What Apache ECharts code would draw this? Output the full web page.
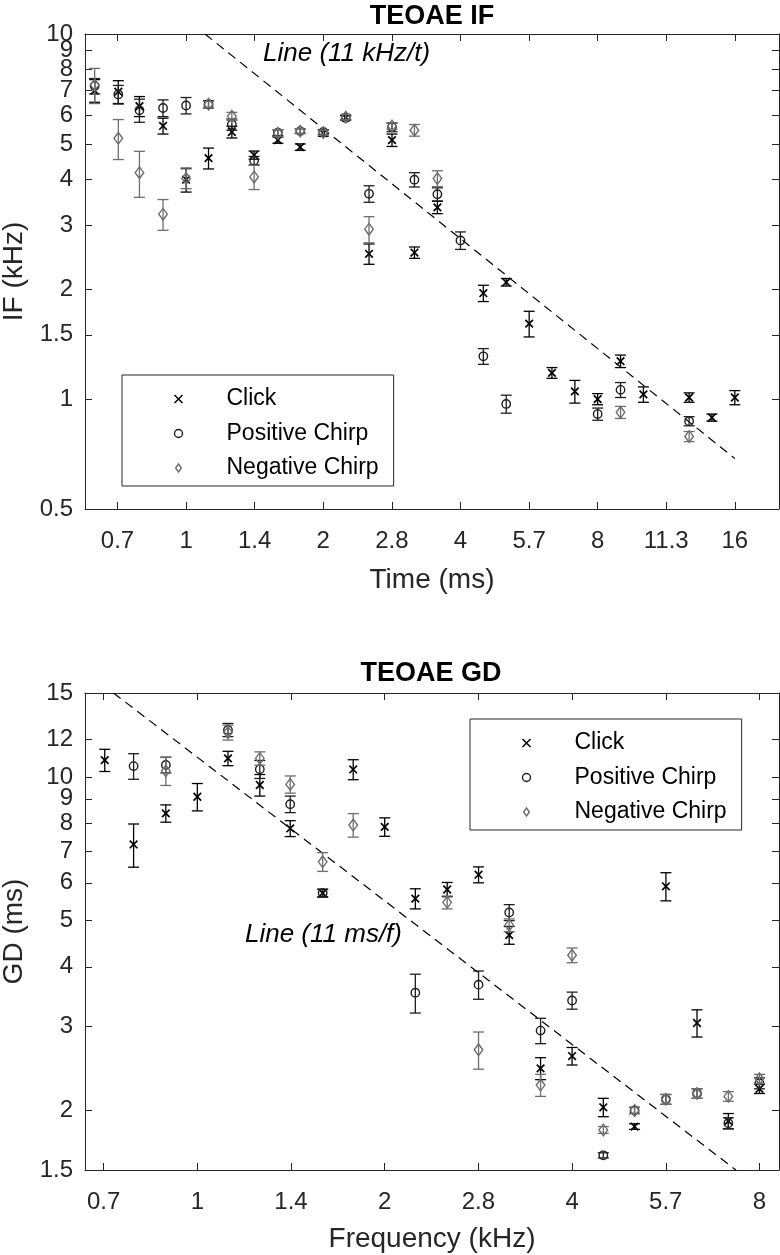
<!DOCTYPE html>
<html>
<head>
<meta charset="utf-8">
<script src="https://cdn.jsdelivr.net/npm/echarts@6.0.0/dist/echarts.min.js"></script>
<style>
  html, body { margin: 0; padding: 0; background: #fff; }
  #chart { width: 780px; height: 1255px; }
</style>
</head>
<body>
<div id="chart"></div>
<script>
// ---------------- DATA ----------------
// Panel 1: TEOAE IF (time in ms, IF in kHz, error = half-width in kHz)
const ifTimes = [0.63, 0.71, 0.79, 0.89, 1.0, 1.12, 1.26, 1.41, 1.59, 1.78, 2.0, 2.24, 2.52, 2.83, 3.17,
                 3.56, 4.0, 4.49, 5.04, 5.66, 6.35, 7.13, 8.0, 8.98, 10.08, 11.31, 12.7, 14.25, 16.0];
const ifClick    = [7.0, 6.95, 6.34, 5.6, 3.99, 4.57, 5.39, 4.66, 5.12, 4.9, 5.35, 5.9, 2.5, 5.12, 2.52,
                    3.35, null, 1.95, 2.09, 1.61, 1.18, 1.05, 1.0, 1.27, 1.03, null, 1.01, 0.89, 1.01];
const ifClickErr = [0.5, 0.5, 0.4, 0.28, 0.3, 0.3, 0.2, 0.12, 0.1, 0.1, 0.1, 0.08, 0.16, 0.2, 0.09,
                    0.13, null, 0.1, 0.05, 0.13, 0.04, 0.075, 0.035, 0.05, 0.05, null, 0.03, 0.02, 0.045];
const ifPos      = [7.2, 6.83, 6.18, 6.27, 6.37, 6.42, 5.65, 4.5, 5.37, 5.42, 5.39, 5.89, 3.65, 5.55, 3.99,
                    3.64, 2.72, 1.31, 0.97, null, null, null, 0.91, 1.06, null, null, 0.87, null, null];
const ifPosErr   = [0.35, 0.4, 0.45, 0.33, 0.33, 0.15, 0.2, 0.12, 0.1, 0.08, 0.08, 0.08, 0.19, 0.15, 0.18,
                    0.15, 0.15, 0.065, 0.055, null, null, null, 0.035, 0.05, null, null, 0.025, null, null];
const ifNeg      = [7.25, 5.18, 4.17, 3.21, 4.02, 6.42, 5.95, 4.06, 5.35, 5.42, 5.37, 5.92, 2.92, 5.6, 5.45,
                    4.02, null, null, null, null, null, null, null, 0.92, null, null, 0.79, null, null];
const ifNegErr   = [0.8, 0.65, 0.6, 0.31, 0.25, 0.12, 0.15, 0.31, 0.12, 0.08, 0.08, 0.1, 0.24, 0.12, 0.2,
                    0.2, null, null, null, null, null, null, null, 0.035, null, null, 0.025, null, null];
const ifLineT = [1.1, 16];            // reference line IF = 11 / t
const ifLineK = 11;

// Panel 2: TEOAE GD (frequency in kHz, GD in ms)
const gdFreqs = [0.71, 0.79, 0.89, 1.0, 1.12, 1.26, 1.41, 1.59, 1.78, 2.0, 2.24, 2.52, 2.83, 3.17, 3.56,
                 4.0, 4.49, 5.04, 5.66, 6.35, 7.13, 8.0];
const gdClick    = [10.85, 7.22, 8.39, 9.09, 10.94, 9.62, 7.8, 5.71, 10.37, 7.86, 5.56, 5.81, 6.24, 4.66, 2.45,
                    2.6, 2.03, 1.85, 5.9, 3.05, 1.9, 2.22];
const gdClickErr = [0.58, 0.75, 0.35, 0.6, 0.38, 0.5, 0.3, 0.11, 0.5, 0.35, 0.27, 0.2, 0.24, 0.2, 0.13,
                    0.11, 0.09, 0.025, 0.4, 0.2, 0.07, 0.05];
const gdPos      = [null, 10.54, 10.6, null, 12.55, 10.38, 8.77, 5.71, null, null, 3.53, null, 3.67, 5.2, 2.94,
                    3.4, 1.61, 2.0, 2.11, 2.17, 1.88, 2.28];
const gdPosErr   = [null, 0.65, 0.4, null, 0.4, 0.45, 0.35, 0.1, null, null, 0.33, null, 0.25, 0.2, 0.18,
                    0.14, 0.02, 0.03, 0.05, 0.05, 0.05, 0.06];
const gdNeg      = [null, null, 10.3, null, 12.4, 10.94, 9.65, 6.64, 7.93, null, null, 5.46, 2.68, 4.89, 2.26,
                    4.23, 1.82, 2.0, 2.11, 2.17, 2.14, 2.33];
const gdNegErr   = [null, null, 0.7, null, 0.45, 0.35, 0.4, 0.3, 0.45, null, null, 0.17, 0.24, 0.15, 0.12,
                    0.15, 0.03, 0.03, 0.05, 0.05, 0.05, 0.05];
const gdLineF = [0.7333, 7.333];      // reference line GD = 11 / f
const gdLineK = 11;

// Tick values / labels
const ifXTicks  = [0.7071, 1, 1.4142, 2, 2.8284, 4, 5.6569, 8, 11.3137, 16];
const ifXLabels = ['0.7', '1', '1.4', '2', '2.8', '4', '5.7', '8', '11.3', '16'];
const ifYTicks  = [0.5, 1, 1.5, 2, 3, 4, 5, 6, 7, 8, 9, 10];
const ifYLabels = ['0.5', '1', '1.5', '2', '3', '4', '5', '6', '7', '8', '9', '10'];
const gdXTicks  = [0.7071, 1, 1.4142, 2, 2.8284, 4, 5.6569, 8];
const gdXLabels = ['0.7', '1', '1.4', '2', '2.8', '4', '5.7', '8'];
const gdYTicks  = [1.5, 2, 3, 4, 5, 6, 7, 8, 9, 10, 12, 15];
const gdYLabels = ['1.5', '2', '3', '4', '5', '6', '7', '8', '9', '10', '12', '15'];

const ifXRange = [0.6, 20], ifYRange = [0.5, 10];
const gdXRange = [0.66, 8.6], gdYRange = [1.5, 15];

const seriesNames = ['Click', 'Positive Chirp', 'Negative Chirp'];

// ---------------- BUILD ----------------
const FONT = "'Liberation Sans', Arial, Helvetica, sans-serif";
const AX = '#262626';
const COLORS = ['#000000', '#1e1e1e', '#6e6e6e'];
const L2 = Math.log2, L10 = Math.log10;

function rows(xs, ys, es) {
  const out = [];
  xs.forEach((x, i) => {
    if (ys[i] == null) return;
    out.push([L2(x), L10(ys[i]), L10(ys[i] - es[i]), L10(ys[i] + es[i])]);
  });
  return out;
}

function makeRender(marker, color) {
  return function (params, api) {
    const xv = api.value(0);
    const p = api.coord([xv, api.value(1)]);
    const lo = api.coord([xv, api.value(2)]);
    const hi = api.coord([xv, api.value(3)]);
    const cw = 5.5;
    const st = { stroke: color, lineWidth: 1.3, fill: null };
    const ch = [
      { type: 'line', shape: { x1: p[0], y1: lo[1], x2: p[0], y2: hi[1] }, style: st },
      { type: 'line', shape: { x1: p[0] - cw, y1: lo[1], x2: p[0] + cw, y2: lo[1] }, style: st },
      { type: 'line', shape: { x1: p[0] - cw, y1: hi[1], x2: p[0] + cw, y2: hi[1] }, style: st }
    ];
    const ms = { stroke: color, lineWidth: 1.4, fill: null };
    if (marker === 'x') {
      const d = 3.8;
      ch.push({ type: 'line', shape: { x1: p[0] - d, y1: p[1] - d, x2: p[0] + d, y2: p[1] + d }, style: { stroke: color, lineWidth: 1.7 } });
      ch.push({ type: 'line', shape: { x1: p[0] - d, y1: p[1] + d, x2: p[0] + d, y2: p[1] - d }, style: { stroke: color, lineWidth: 1.7 } });
    } else if (marker === 'o') {
      ch.push({ type: 'circle', shape: { cx: p[0], cy: p[1], r: 4.2 }, style: ms });
    } else {
      ch.push({ type: 'polygon', shape: { points: [[p[0], p[1] - 5.8], [p[0] + 4.3, p[1]], [p[0], p[1] + 5.8], [p[0] - 4.3, p[1]]] }, style: ms });
    }
    return { type: 'group', children: ch };
  };
}

function labelFor(ticks, labels, logFn) {
  return function (v) {
    let best = 0, bd = Infinity;
    ticks.forEach((t, i) => { const d = Math.abs(logFn(t) - v); if (d < bd) { bd = d; best = i; } });
    return labels[best];
  };
}

function makeAxis(kind, gridIndex, ticks, labels, range, logFn, show, extra, labelTicks) {
  const vals = ticks.map(logFn);
  const lvals = (labelTicks || ticks).map(logFn);
  return Object.assign({
    type: 'value',
    gridIndex: gridIndex,
    min: logFn(range[0]),
    max: logFn(range[1]),
    axisLine: { show: true, onZero: false, lineStyle: { color: AX, width: 1 } },
    axisTick: { show: true, inside: true, length: 7, customValues: vals, lineStyle: { color: AX, width: 1 } },
    axisLabel: {
      show: show, customValues: lvals, formatter: labelFor(ticks, labels, logFn),
      color: AX, fontFamily: FONT, fontSize: 24, margin: kind === 'x' ? 20 : 12,
      showMinLabel: true, showMaxLabel: true, hideOverlap: false
    },
    splitLine: { show: false }
  }, extra || {});
}

// An extra label-only axis so crowded labels (like MATLAB) are all drawn
function labelOnlyAxis(gridIndex, ticks, labels, range, logFn, which) {
  const vals = which.map(logFn);
  return {
    type: 'value', gridIndex: gridIndex, position: 'left',
    min: logFn(range[0]), max: logFn(range[1]),
    axisLine: { show: false }, axisTick: { show: false }, splitLine: { show: false },
    axisLabel: { show: true, customValues: vals, formatter: labelFor(ticks, labels, logFn),
      color: AX, fontFamily: FONT, fontSize: 24, margin: 12, showMinLabel: true, showMaxLabel: true }
  };
}

const nameStyle = { color: AX, fontFamily: FONT, fontSize: 28 };

const xAxes = [
  makeAxis('x', 0, ifXTicks, ifXLabels, ifXRange, L2, true, { position: 'bottom', name: 'Time (ms)', nameLocation: 'middle', nameGap: 57, nameTextStyle: nameStyle }),
  makeAxis('x', 0, ifXTicks, ifXLabels, ifXRange, L2, false, { position: 'top' }),
  makeAxis('x', 1, gdXTicks, gdXLabels, gdXRange, L2, true, { position: 'bottom', name: 'Frequency (kHz)', nameLocation: 'middle', nameGap: 55, nameTextStyle: nameStyle }),
  makeAxis('x', 1, gdXTicks, gdXLabels, gdXRange, L2, false, { position: 'top' })
];
const ifYMain = ifYTicks.filter(v => v !== 9);
const yAxes = [
  makeAxis('y', 0, ifYTicks, ifYLabels, ifYRange, L10, true, { position: 'left', name: 'IF (kHz)', nameLocation: 'middle', nameGap: 57, nameTextStyle: nameStyle }, ifYMain),
  makeAxis('y', 0, ifYTicks, ifYLabels, ifYRange, L10, false, { position: 'right' }),
  makeAxis('y', 1, gdYTicks, gdYLabels, gdYRange, L10, true, { position: 'left', name: 'GD (ms)', nameLocation: 'middle', nameGap: 57, nameTextStyle: nameStyle }),
  makeAxis('y', 1, gdYTicks, gdYLabels, gdYRange, L10, false, { position: 'right' }),
  labelOnlyAxis(0, ifYTicks, ifYLabels, ifYRange, L10, [9])
];

const markers = ['x', 'o', 'd'];
const ifSets = [[ifClick, ifClickErr], [ifPos, ifPosErr], [ifNeg, ifNegErr]];
const gdSets = [[gdClick, gdClickErr], [gdPos, gdPosErr], [gdNeg, gdNegErr]];

const series = [];
[[ifSets, ifTimes, 0], [gdSets, gdFreqs, 2]].forEach(([sets, xs, ax]) => {
  sets.forEach((s, i) => {
    series.push({
      type: 'custom',
      name: seriesNames[i],
      xAxisIndex: ax,
      yAxisIndex: ax,
      clip: true,
      renderItem: makeRender(markers[i], COLORS[i]),
      encode: { x: 0, y: 1 },
      itemStyle: { color: 'none', borderColor: COLORS[i], borderWidth: 1.3 },
      data: rows(xs, s[0], s[1]),
      z: 3 + i
    });
  });
});

series.push({
  type: 'line', name: 'ref1', xAxisIndex: 0, yAxisIndex: 0, symbol: 'none', silent: true,
  lineStyle: { color: '#000', width: 1.2, type: [9, 6] },
  data: ifLineT.map(t => [L2(t), L10(ifLineK / t)]), z: 2
});
series.push({
  type: 'line', name: 'ref2', xAxisIndex: 2, yAxisIndex: 2, symbol: 'none', silent: true,
  lineStyle: { color: '#000', width: 1.2, type: [9, 6] },
  data: gdLineF.map(f => [L2(f), L10(gdLineK / f)]), z: 2
});

function legendData() {
  return [
    { name: 'Click', icon: 'path://M0,0L10,10M10,0L0,10', itemStyle: { color: 'none', borderColor: COLORS[0], borderWidth: 1.5 } },
    { name: 'Positive Chirp', icon: 'circle', itemStyle: { color: 'none', borderColor: COLORS[1], borderWidth: 1.4 } },
    { name: 'Negative Chirp', icon: 'path://M5,0L10,7L5,14L0,7Z', itemStyle: { color: 'none', borderColor: COLORS[2], borderWidth: 1.4 } }
  ];
}
function legendAt(left, top) {
  return {
    orient: 'vertical', left: left, top: top,
    padding: [11, 15, 5, 50],
    itemWidth: 86, itemHeight: 8, itemGap: 8.5,
    borderColor: AX, borderWidth: 1, backgroundColor: '#fff',
    selectedMode: false,
    textStyle: { color: '#000', fontFamily: FONT, fontSize: 23, lineHeight: 26, padding: 0 },
    data: legendData()
  };
}

const option = {
  backgroundColor: '#fff',
  animation: false,
  title: [
    { text: 'TEOAE IF', left: 432, top: 3, textAlign: 'center', padding: 0,
      textStyle: { fontFamily: FONT, fontSize: 27, fontWeight: 'bold', color: '#000' } },
    { text: 'TEOAE GD', left: 431, top: 660, textAlign: 'center', padding: 0,
      textStyle: { fontFamily: FONT, fontSize: 27, fontWeight: 'bold', color: '#000' } }
  ],
  grid: [
    { left: 85, right: 1, top: 34, height: 475, containLabel: false, outerBoundsMode: 'none' },
    { left: 85, right: 1, top: 693, height: 477, containLabel: false, outerBoundsMode: 'none' }
  ],
  xAxis: xAxes,
  yAxis: yAxes,
  legend: [legendAt(122, 375), legendAt(470, 719)],
  graphic: [
    { type: 'text', left: 263, top: 41, style: { text: 'Line (11 kHz/t)', fontFamily: FONT, fontSize: 26, fontStyle: 'italic', fill: '#000' } },
    { type: 'text', right: 378, top: 922, style: { text: 'Line (11 ms/f)', fontFamily: FONT, fontSize: 26, fontStyle: 'italic', fill: '#000' } }
  ],
  series: series
};

const chart = echarts.init(document.getElementById('chart'), null, { renderer: 'canvas' });
chart.setOption(option);
</script>
</body>
</html>
